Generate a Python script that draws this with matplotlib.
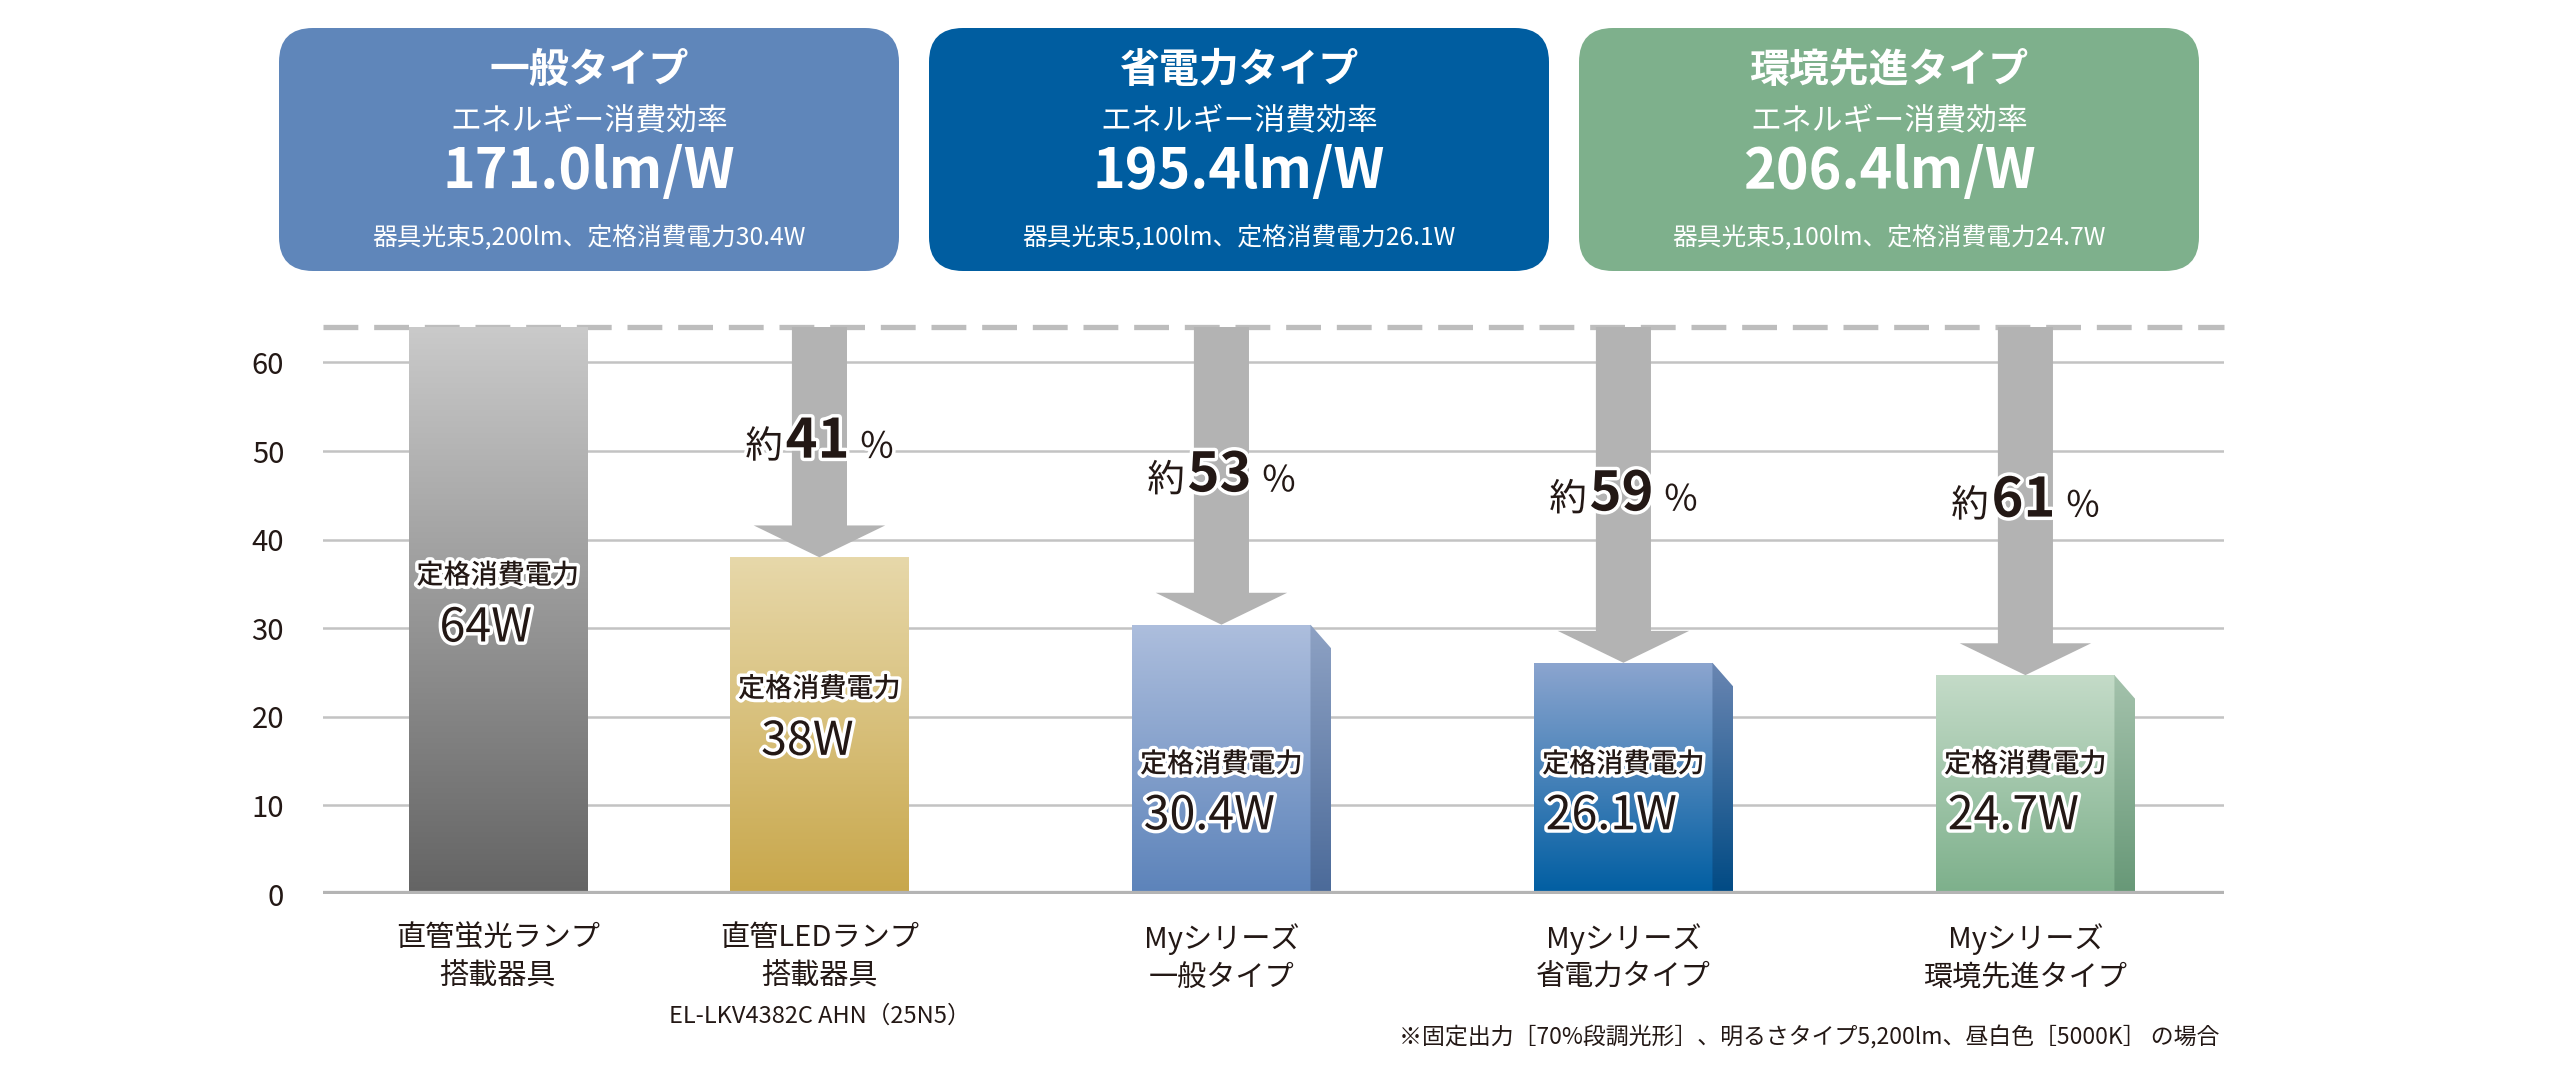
import numpy as np
import matplotlib
matplotlib.use("Agg")
import matplotlib.pyplot as plt
import matplotlib.patheffects as pe
from matplotlib.colors import LinearSegmentedColormap
from matplotlib.patches import FancyBboxPatch, Polygon
from matplotlib.offsetbox import TextArea, HPacker, AnnotationBbox

plt.rcParams['font.family'] = ['Noto Sans CJK JP', 'DejaVu Sans']

# --- data ---
categories = ['直管蛍光ランプ\n搭載器具', '直管LEDランプ\n搭載器具', 'Myシリーズ\n一般タイプ',
              'Myシリーズ\n省電力タイプ', 'Myシリーズ\n環境先進タイプ']
model_note = 'EL-LKV4382C AHN（25N5）'
power_w = [64, 38, 30.4, 26.1, 24.7]
power_labels = ['64W', '38W', '30.4W', '26.1W', '24.7W']
reduction_pct = [None, 41, 53, 59, 61]
yticks = [0, 10, 20, 30, 40, 50, 60]

panel_titles = ['一般タイプ', '省電力タイプ', '環境先進タイプ']
panel_sub = 'エネルギー消費効率'
panel_efficiency = ['171.0lm/W', '195.4lm/W', '206.4lm/W']
panel_notes = ['器具光束5,200lm、定格消費電力30.4W',
               '器具光束5,100lm、定格消費電力26.1W',
               '器具光束5,100lm、定格消費電力24.7W']
footnote = '※固定出力［70%段調光形］、明るさタイプ5,200lm、昼白色［5000K］ の場合'

# --- style ---
bar_pos = [0, 0.8, 1.8, 2.8, 3.8]
bar_width = 0.443
front_grad = [('#CACACA', '#646464'), ('#E7D8AA', '#C8A74B'), ('#ADBEDD', '#5C83BA'),
              ('#8CA5CF', '#005EA2'), ('#C4DBC8', '#7DB08B')]
side_grad = [None, None, ('#8EA2C4', '#4B6A99'), ('#6A86B2', '#004A84'), ('#A4C2AC', '#679877')]
panel_colors = ['#5F86BA', '#005DA0', '#7EB08C']
ink = '#231815'
arrow_gray = '#B3B3B3'

W, H = 2560, 1067
fig = plt.figure(figsize=(W / 100, H / 100), dpi=100)

# header panels (pixel coordinates)
bg = fig.add_axes([0, 0, 1, 1])
bg.set_xlim(0, W)
bg.set_ylim(H, 0)
bg.axis('off')
for i, title in enumerate(panel_titles):
    left = 279 + i * 650
    cx = left + 310
    bg.add_patch(FancyBboxPatch((left, 28), 620, 243, boxstyle='round,pad=0,rounding_size=34',
                                fc=panel_colors[i], ec='none'))
    bg.text(cx, 70, title, color='white', fontsize=28.7, fontweight='bold', ha='center', va='center')
    bg.text(cx, 121, panel_sub, color='white', fontsize=22.2, ha='center', va='center')
    bg.text(cx, 172, panel_efficiency[i], color='white', fontsize=40, fontweight='bold',
            ha='center', va='center')
    bg.text(cx, 238, panel_notes[i], color='white', fontsize=17.8, ha='center', va='center')

# main chart
ax = fig.add_axes([323 / W, (H - 894) / H, (2224 - 323) / W, (894 - 327) / H])
for s in ax.spines.values():
    s.set_visible(False)
ax.set_yticks(yticks)
ax.set_yticklabels([str(t) for t in yticks], fontsize=21, color=ink)
ax.tick_params(axis='y', length=0, pad=28)
ax.grid(axis='y', color='#C3C3C3', lw=1.8, zorder=0)
ax.set_axisbelow(True)
ax.set_xticks(bar_pos)
ax.set_xticklabels(categories, fontsize=21, color=ink, linespacing=1.35)
ax.tick_params(axis='x', length=0, pad=21)

top = power_w[0]
ax.axhline(top, color='#BDBDBD', lw=3.8, dashes=(6.6, 3.0), zorder=2, clip_on=False)

grad = np.linspace(0, 1, 256).reshape(-1, 1)


def fill_gradient(patch, colors, extent):
    cmap = LinearSegmentedColormap.from_list('g', [colors[1], colors[0]])
    im = ax.imshow(grad, cmap=cmap, extent=extent, origin='lower', aspect='auto',
                   zorder=3, interpolation='bilinear')
    im.set_clip_path(patch)


bars = ax.bar(bar_pos, power_w, width=bar_width, color='none', zorder=3)
dx, dy = 0.052, 2.7
for i, rect in enumerate(bars):
    x0, w, h = rect.get_x(), rect.get_width(), rect.get_height()
    fill_gradient(rect, front_grad[i], [x0, x0 + w, 0, h])
    if side_grad[i] is not None:
        side = Polygon([(x0 + w, h), (x0 + w + dx, h - dy), (x0 + w + dx, 0), (x0 + w, 0)],
                       closed=True, fc='none', ec='none', zorder=3)
        ax.add_patch(side)
        fill_gradient(side, side_grad[i], [x0 + w, x0 + w + dx, 0, h])

ax.axhline(0, color='#B4B4B4', lw=4.5, zorder=5)

# arrows and reduction labels
outline = [pe.withStroke(linewidth=5, foreground='white')]
for i, pct in enumerate(reduction_pct):
    if pct is None:
        continue
    v = power_w[i]
    ax.arrow(bar_pos[i], top, 0, v - top, width=0.137, head_width=0.327, head_length=3.6,
             length_includes_head=True, fc=arrow_gray, ec='none', zorder=4)
    parts = [TextArea('約', textprops=dict(fontsize=27, color=ink, path_effects=outline)),
             TextArea(str(pct), textprops=dict(fontsize=39, fontweight='bold', color=ink,
                                               path_effects=outline)),
             TextArea(' %', textprops=dict(fontsize=26, color=ink, path_effects=outline))]
    box = HPacker(children=parts, align='baseline', pad=0, sep=2)
    ab = AnnotationBbox(box, (bar_pos[i], (top + v) / 2), frameon=False, box_alignment=(0.5, 0.5),
                        zorder=6)
    ax.add_artist(ab)

# power labels in bars
label_y = [(35.9, 30.0), (23.1, 17.2), (14.6, 8.8), (14.6, 8.8), (14.6, 8.8)]
for i, lab in enumerate(power_labels):
    ly, vy = label_y[i]
    ax.text(bar_pos[i], ly, '定格消費電力', fontsize=19.5, fontweight='medium', color=ink,
            ha='center', va='center', zorder=6, path_effects=outline)
    ax.text(bar_pos[i] - 0.03, vy, lab, fontsize=33.5, color=ink, ha='center', va='center',
            zorder=6, path_effects=outline)

ax.text(bar_pos[1], -13.8, model_note, fontsize=17, color=ink, ha='center', va='center',
        clip_on=False)

ax.set_xlim(-0.435, 4.294)
ax.set_ylim(0, 64)

bg.text(2219, 1037, footnote, fontsize=16.5, color=ink, ha='right', va='center')

fig.savefig('out.png', dpi=100)
